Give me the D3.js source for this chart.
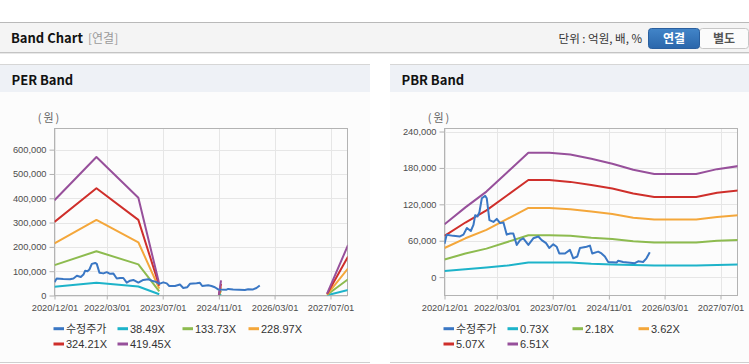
<!DOCTYPE html>
<meta charset="utf-8">
<html>
<head>
<script src="https://cdn.jsdelivr.net/npm/d3@7"></script>
<style>
body { margin:0; background:#ffffff; }
text { font-family:"Liberation Sans", "Noto Sans CJK KR", sans-serif; }
.kr { font-family:"Noto Sans CJK KR", sans-serif; }
</style>
</head>
<body>
<script>

// adjusted share price (shared by both charts)
var priceDates = ["2020-12-01","2020-12-20","2021-02-15","2021-04-15","2021-05-15","2021-06-14","2021-07-18",
  "2021-08-10","2021-08-25","2021-09-14","2021-10-01","2021-10-22","2021-11-20","2021-12-04","2021-12-27",
  "2022-01-31","2022-03-01","2022-03-30","2022-04-28","2022-05-27","2022-06-25","2022-07-23","2022-08-22",
  "2022-09-20","2022-10-18","2022-12-01","2023-01-13","2023-02-26","2023-03-27","2023-05-04","2023-06-01",
  "2023-07-06","2023-08-05","2023-08-27","2023-10-16","2023-11-28","2023-12-27","2024-01-31","2024-02-23",
  "2024-04-21","2024-05-20","2024-06-09","2024-07-31","2024-08-29","2024-09-27","2024-10-26","2025-01-07",
  "2025-01-21","2025-03-05","2025-06-15","2025-07-14","2025-08-26","2025-09-24","2025-10-23"];
var priceValues = [55000,70000,68000,67000,70000,81000,76000,
  86000,102000,100000,107000,130000,134000,130000,94000,
  91000,96000,89000,90000,70000,72000,72000,53000,
  61000,64000,53000,64000,67000,61000,56000,48000,
  54000,50000,39000,39000,45000,31000,34000,48000,
  50000,52000,39000,42000,39000,34000,25000,24000,
  27000,25000,23000,26000,25000,31000,41000];

// PER bands (null = no band)
var perBandDates = ["2020-12-01","2021-12-01","2022-12-01","2023-06-01","2023-07-01",
  "2024-11-01","2024-11-20","2024-12-01","2027-06-01","2027-12-01"];
var per38  = [36000, 52000, 37000, 5000, null, 0, 6000, null, 1000, 23000];
var per133 = [125000, 182000, 128000, 17000, null, 1000, 20000, null, 3000, 67000];
var per228 = [214000, 311000, 219000, 28000, null, 1000, 34000, null, 4000, 112000];
var per324 = [303000, 441000, 311000, 40000, null, 2000, 48000, null, 6000, 160000];
var per419 = [392000, 570000, 402000, 47000, null, 2000, 62000, null, 8000, 208000];

// PBR bands
var pbrBandDates = ["2020-12-01","2021-06-01","2021-12-01","2022-06-01","2022-12-01","2023-06-01",
  "2023-12-01","2024-06-01","2024-12-01","2025-06-01","2025-12-01","2026-06-01","2026-12-01",
  "2027-06-01","2027-12-01"];
var pbr073 = [10000,13000,16000,19000,24000,24000,24000,22000,21000,20000,19000,19000,19000,20000,21000];
var pbr218 = [29000,39000,47000,58000,69000,69000,68000,65000,63000,59000,57000,57000,57000,60000,61000];
var pbr362 = [48000,64000,78000,96000,114000,114000,112000,108000,104000,98000,95000,95000,95000,99000,102000];
var pbr507 = [68000,90000,110000,135000,160000,160000,157000,152000,146000,138000,132000,132000,132000,139000,143000];
var pbr651 = [87000,115000,141000,173000,205000,205000,202000,195000,187000,177000,170000,170000,170000,178000,183000];

var xTickLabels = ["2020/12/01","2022/03/01","2023/07/01","2024/11/01","2026/03/01","2027/07/01"];
var perYTicks = [0,100000,200000,300000,400000,500000,600000];
var pbrYTicks = [0,60000,120000,180000,240000];
var perLegend = ["수정주가","38.49X","133.73X","228.97X","324.21X","419.45X"];
var pbrLegend = ["수정주가","0.73X","2.18X","3.62X","5.07X","6.51X"];

var colors = ["#3a77c4","#1db3c9","#8dbb4f","#f4a73b","#cf2f2b","#97509b"];

var parseDate = d3.timeParse("%Y-%m-%d");
var parseTick = d3.timeParse("%Y/%m/%d");

var svg = d3.select("body").append("svg")
    .attr("width", 749)
    .attr("height", 364);

// page header bar
svg.append("rect").attr("x", 0).attr("y", 22).attr("width", 749).attr("height", 31).attr("fill", "#f4f4f4");
svg.append("line").attr("x1", 0).attr("x2", 749).attr("y1", 22.5).attr("y2", 22.5).attr("stroke", "#b9b9b9");
svg.append("line").attr("x1", 0).attr("x2", 749).attr("y1", 52.5).attr("y2", 52.5).attr("stroke", "#c4c4c4");
svg.append("line").attr("x1", 0).attr("x2", 749).attr("y1", 53.5).attr("y2", 53.5).attr("stroke", "#e8e8e8");
svg.append("text").attr("class", "kr").attr("x", 11).attr("y", 43)
    .attr("font-size", "13px").attr("font-weight", "bold").attr("fill", "#111").text("Band Chart");
svg.append("text").attr("class", "kr").attr("x", 88).attr("y", 43)
    .attr("font-size", "12px").attr("fill", "#9a9a9a").text("[연결]");
svg.append("text").attr("class", "kr").attr("x", 642).attr("y", 42.5).attr("text-anchor", "end")
    .attr("font-size", "11.5px").attr("fill", "#333").text("단위 : 억원, 배, %");

// toggle buttons
var grad = svg.append("defs").append("linearGradient").attr("id", "btn").attr("x1", 0).attr("x2", 0).attr("y1", 0).attr("y2", 1);
grad.append("stop").attr("offset", "0%").attr("stop-color", "#4285c8");
grad.append("stop").attr("offset", "100%").attr("stop-color", "#2a66ab");
svg.append("rect").attr("x", 699.5).attr("y", 28.5).attr("width", 49).attr("height", 20).attr("rx", 3)
    .attr("fill", "#fbfbfb").attr("stroke", "#c6c6c6");
svg.append("rect").attr("x", 648.5).attr("y", 28.5).attr("width", 51).attr("height", 20).attr("rx", 3)
    .attr("fill", "url(#btn)").attr("stroke", "#2a5f9e");
svg.append("text").attr("class", "kr").attr("x", 674).attr("y", 42.5).attr("text-anchor", "middle")
    .attr("font-size", "12px").attr("font-weight", "bold").attr("fill", "#fff").text("연결");
svg.append("text").attr("class", "kr").attr("x", 724).attr("y", 42.5).attr("text-anchor", "middle")
    .attr("font-size", "12px").attr("font-weight", "bold").attr("fill", "#555").text("별도");

function panel(px, pw, title) {
  svg.append("rect").attr("x", px).attr("y", 92).attr("width", pw).attr("height", 270).attr("fill", "#fcfcfc");
  svg.append("rect").attr("x", px).attr("y", 64).attr("width", pw).attr("height", 28).attr("fill", "#eef1f6");
  svg.append("line").attr("x1", px).attr("x2", px + pw).attr("y1", 64.5).attr("y2", 64.5).attr("stroke", "#d6d6d6");
  svg.append("line").attr("x1", px).attr("x2", px + pw).attr("y1", 362.5).attr("y2", 362.5).attr("stroke", "#cfcfcf");
  svg.append("text").attr("class", "kr").attr("x", px + 11.5).attr("y", 84.5)
      .attr("font-size", "13px").attr("font-weight", "bold").attr("fill", "#111").text(title);
}

function drawBand(id, left, yDomain, yTicks, bandDates, bands, names) {
  var top = 128.5, bottom = 295.5, right = left + 293;
  var x = d3.scaleTime()
      .domain([parseDate("2020-12-01"), parseDate("2027-12-01")])
      .range([left, left + 293.6]);
  var y = d3.scaleLinear().domain(yDomain).range([bottom, top]);
  var xTicks = xTickLabels.map(parseTick);
  var g = svg.append("g");

  // grid
  g.selectAll(".hg").data(yTicks).enter().append("line")
      .attr("x1", left).attr("x2", right)
      .attr("y1", function(d) { return Math.round(y(d)) + 0.5; })
      .attr("y2", function(d) { return Math.round(y(d)) + 0.5; })
      .attr("stroke", "#e6e6e6");
  g.selectAll(".vg").data(xTicks).enter().append("line")
      .attr("y1", top).attr("y2", bottom)
      .attr("x1", function(d) { return Math.round(x(d)) + 0.5; })
      .attr("x2", function(d) { return Math.round(x(d)) + 0.5; })
      .attr("stroke", "#e6e6e6");

  // axes
  var ya = g.append("g").attr("transform", "translate(" + left + ",0)")
      .call(d3.axisLeft(y).tickValues(yTicks).tickFormat(d3.format(",")).tickSize(5).tickPadding(3));
  var xa = g.append("g").attr("transform", "translate(0," + bottom + ")")
      .call(d3.axisBottom(x).tickValues(xTicks).tickFormat(d3.timeFormat("%Y/%m/%d")).tickSize(4).tickPadding(5));
  [ya, xa].forEach(function(a) {
    a.select(".domain").remove();
    a.selectAll("line").attr("stroke", "#b0b0b0");
    a.selectAll("text").attr("fill", "#4d4d4d").style("font-size", "9.3px")
        .style("font-family", "'Liberation Sans', sans-serif");
  });

  g.append("rect").attr("x", left).attr("y", top).attr("width", right - left).attr("height", bottom - top)
      .attr("fill", "none").attr("stroke", "#b3b3b3");

  g.append("text").attr("class", "kr").attr("x", left - 5).attr("y", 122).attr("text-anchor", "middle")
      .attr("font-size", "11px").attr("letter-spacing", "2px").attr("fill", "#666").text("(원)");

  // clip
  svg.append("clipPath").attr("id", id).append("rect")
      .attr("x", left).attr("y", top).attr("width", right - left).attr("height", bottom - top);
  var plot = g.append("g").attr("clip-path", "url(#" + id + ")");

  var line = d3.line()
      .defined(function(d) { return d[1] != null; })
      .x(function(d) { return x(d[0]); })
      .y(function(d) { return y(d[1]); });

  bands.forEach(function(vals, i) {
    var pts = bandDates.map(function(d, j) { return [parseDate(d), vals[j]]; });
    plot.append("path").datum(pts).attr("d", line)
        .attr("fill", "none").attr("stroke", colors[i + 1]).attr("stroke-width", 2)
        .attr("stroke-linejoin", "round");
  });
  var price = priceDates.map(function(d, j) { return [parseDate(d), priceValues[j]]; });
  plot.append("path").datum(price).attr("d", line)
      .attr("fill", "none").attr("stroke", colors[0]).attr("stroke-width", 2)
      .attr("stroke-linejoin", "round");

  // legend
  var cols = [-1, 63, 128, 194], rows = [328.7, 344];
  var lg = g.selectAll(".lg").data(names).enter().append("g")
      .attr("transform", function(d, i) {
        return "translate(" + (left + cols[i % 4]) + "," + rows[Math.floor(i / 4)] + ")";
      });
  lg.append("line").attr("x1", 0).attr("x2", 10.5).attr("y1", 0).attr("y2", 0)
      .attr("stroke", function(d, i) { return colors[i]; }).attr("stroke-width", 3);
  lg.append("text").attr("x", 12.5).attr("y", 4).attr("font-size", "11px").attr("fill", "#333")
      .text(function(d) { return d; });
}

panel(0, 370, "PER Band");
panel(390, 359, "PBR Band");

drawBand("clipPer", 54.5, [0, 687000], perYTicks, perBandDates, [per38, per133, per228, per324, per419], perLegend);
drawBand("clipPbr", 444.5, [-30300, 245000], pbrYTicks, pbrBandDates, [pbr073, pbr218, pbr362, pbr507, pbr651], pbrLegend);

</script>
</body>
</html>
